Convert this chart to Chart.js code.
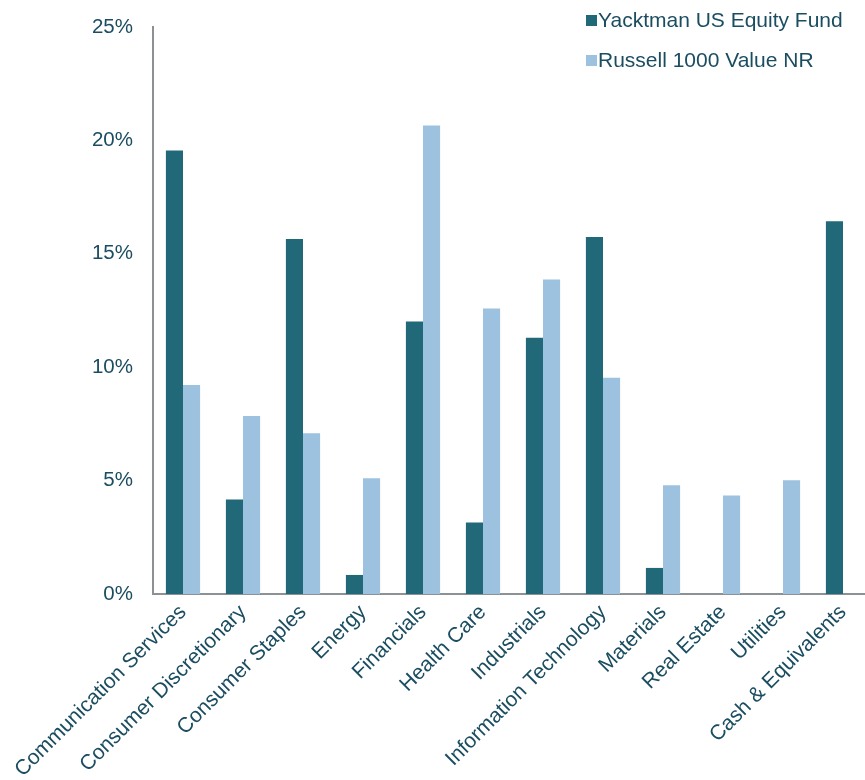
<!DOCTYPE html>
<html>
<head>
<meta charset="utf-8">
<script src="https://cdn.jsdelivr.net/npm/chart.js@4/dist/chart.umd.min.js"></script>
<style>
html,body{margin:0;padding:0;background:#fff;overflow:hidden;}
#wrap{width:865px;height:780px;position:relative;overflow:hidden;}
</style>
</head>
<body>
<div id="wrap"><canvas id="c" width="874" height="780"></canvas></div>
<script>
const categories = ["Communication Services","Consumer Discretionary","Consumer Staples","Energy","Financials","Health Care","Industrials","Information Technology","Materials","Real Estate","Utilities","Cash & Equivalents"];
const fundName = "Yacktman US Equity Fund";
const benchName = "Russell 1000 Value NR";
const fundValues = [19.55, 4.17, 15.65, 0.84, 12.01, 3.15, 11.3, 15.74, 1.15, 0, 0, 16.44];
const benchValues = [9.22, 7.85, 7.09, 5.1, 20.66, 12.59, 13.87, 9.53, 4.79, 4.34, 5.01, 0];
const yTicks = [0, 5, 10, 15, 20, 25];

const DARK = "#216878";
const LIGHT = "#9cc2e0";
const TEXT = "#1b4d61";
const FONT = "'Liberation Sans', Arial, sans-serif";

const legendPlugin = {
  id: 'customLegend',
  afterDraw(chart) {
    const ctx = chart.ctx;
    const items = [[fundName, DARK], [benchName, LIGHT]];
    ctx.save();
    ctx.font = "21px " + FONT;
    ctx.textBaseline = "middle";
    items.forEach((it, i) => {
      const y = 20 + i * 40;
      ctx.fillStyle = it[1];
      ctx.fillRect(586, y - 5, 11, 11);
      ctx.fillStyle = TEXT;
      ctx.fillText(it[0], 598, y + 1);
    });
    ctx.restore();
  }
};

new Chart(document.getElementById('c'), {
  type: 'bar',
  data: {
    labels: categories,
    datasets: [
      { label: fundName, data: fundValues, backgroundColor: DARK, barPercentage: 1, categoryPercentage: 0.57 },
      { label: benchName, data: benchValues, backgroundColor: LIGHT, barPercentage: 1, categoryPercentage: 0.57 }
    ]
  },
  options: {
    responsive: false,
    animation: false,
    layout: { padding: { top: 27, right: 1, left: 0, bottom: 0 } },
    plugins: { legend: { display: false }, tooltip: { enabled: false } },
    scales: {
      x: {
        grid: { display: false, drawTicks: false },
        border: { display: true, color: '#8c9196', width: 2 },
        ticks: {
          color: TEXT, font: { family: FONT, size: 21 },
          maxRotation: 45, minRotation: 45, autoSkip: false, padding: 6
        },
        afterFit(scale) { scale.height = 186; scale.paddingLeft = 0; scale.paddingRight = 0; }
      },
      y: {
        min: 0, max: 25,
        afterBuildTicks(scale) { scale.ticks = yTicks.map(v => ({ value: v })); },
        grid: { display: false, drawTicks: false },
        border: { display: true, color: '#8c9196', width: 2 },
        ticks: {
          color: TEXT, font: { family: FONT, size: 20.5 }, padding: 20,
          callback: v => v + '%'
        },
        afterFit(scale) { scale.width = 153; scale.paddingTop = 0; scale.paddingBottom = 0; }
      }
    }
  },
  plugins: [legendPlugin]
});
</script>
</body>
</html>
